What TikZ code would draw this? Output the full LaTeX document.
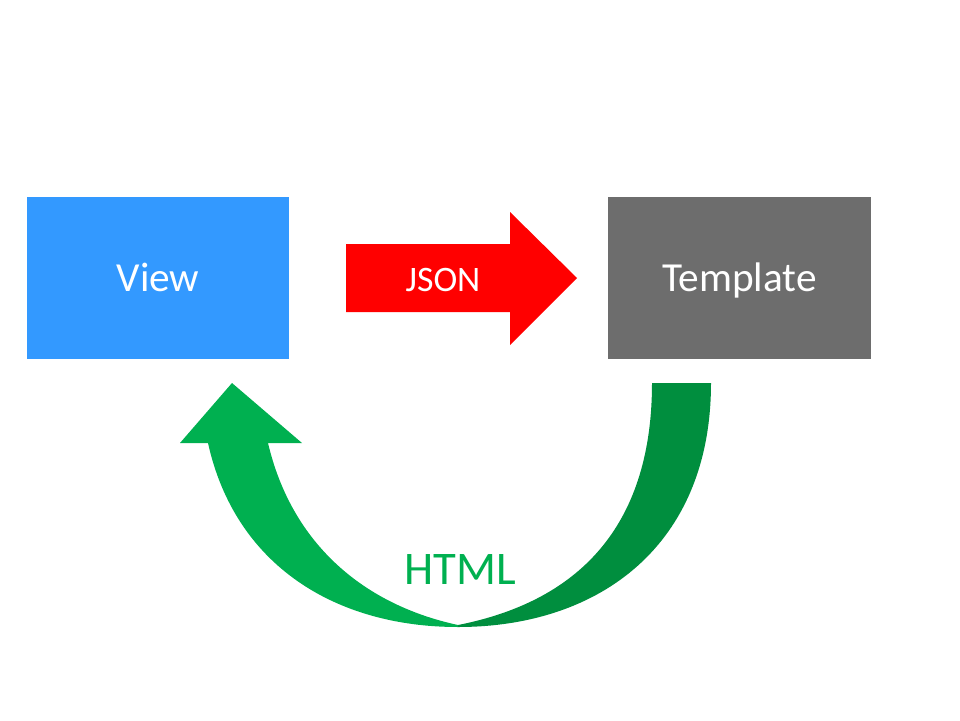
\documentclass[tikz,border=0pt]{standalone}
\usepackage{fontspec}
\setmainfont{Carlito}
\definecolor{viewblue}{HTML}{3399FF}
\definecolor{tplgray}{HTML}{6D6D6D}
\definecolor{lightgreen}{HTML}{00B050}
\definecolor{darkgreen}{HTML}{008E3E}
\definecolor{jsonred}{HTML}{FF0000}
\tikzset{
  boxnode/.style={draw=none, minimum width=5.24cm, minimum height=3.24cm, inner sep=0pt, text=white, text height=15.9pt, text depth=0pt, font=\fontsize{23.5}{28}\selectfont},
}
\begin{document}
\begin{tikzpicture}[x=0.02cm,y=-0.02cm]
\useasboundingbox (0,0) rectangle (960,720);
\node[boxnode, fill=viewblue] (view) at (158,278) {View};
\node[boxnode, fill=tplgray, minimum width=5.26cm] (tpl) at (739.5,278) {Template};
% JSON arrow
\fill[jsonred] (346,244) -- (510,244) -- (510,212) -- (577,278) -- (510,345) -- (510,312) -- (346,312) -- cycle;
\node[text=white, font=\fontsize{20.4}{24}\selectfont] (json) at (443,280) {JSON};
% green curved arrow, left (light) half with head
\fill[lightgreen] (208,443) .. controls (235,565) and (335,627) .. (458,627)
  -- (458,625) .. controls (365,605) and (292,545) .. (268,443)
  -- (302,443) -- (232,383) -- (180,443) -- cycle;
% right (dark) half
\fill[darkgreen] (711,383) .. controls (711,545) and (600,627) .. (458,627)
  -- (458,625) .. controls (585,600) and (652,520) .. (652,383) -- cycle;
\node[text=lightgreen, font=\fontsize{26.6}{32}\selectfont] (html) at (460,570) {HTML};
\end{tikzpicture}
\end{document}
